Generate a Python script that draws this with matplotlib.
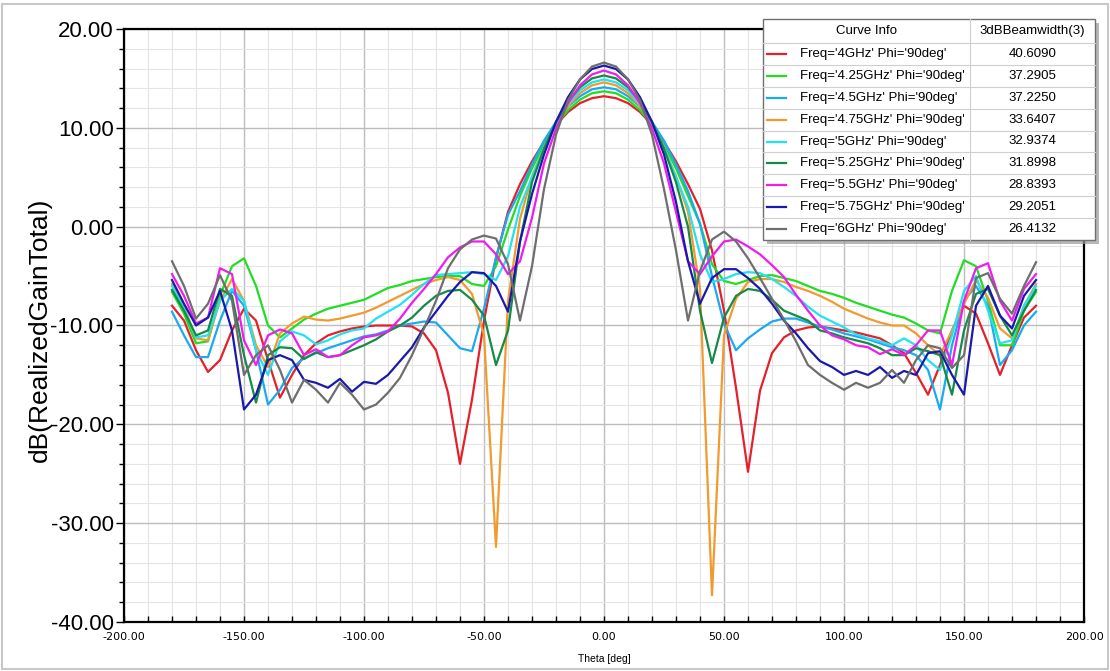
import numpy as np
import matplotlib.pyplot as plt
from matplotlib.patches import Rectangle
from matplotlib.lines import Line2D
from matplotlib.ticker import MultipleLocator, FormatStrFormatter

plt.rcParams["font.family"] = ["Liberation Sans", "DejaVu Sans"]

# theta grid of the far-field cut, degrees
theta = np.arange(-180, 181, 5)

# dB(RealizedGainTotal), one list per frequency
gain_4ghz = [
    -8.0, -9.5, -12.5, -14.7, -13.5, -10.5, -8.3, -9.5, -13.5, -17.3, -15.0, -13.0,
    -11.8, -11.0, -10.6, -10.3, -10.1, -10.0, -10.0, -10.0, -10.1, -10.8, -12.5, -16.8,
    -24.0, -17.5, -9.5, -3.2, 1.5, 4.3, 6.6, 8.6, 10.3, 11.6, 12.5, 13.0, 13.2,
    13.0, 12.5, 11.6, 10.3, 8.6, 6.6, 4.3, 1.8, -2.4, -8.5, -16.3, -24.8,
    -16.6, -12.8, -11.2, -10.5, -10.2, -10.1, -10.3, -10.5, -10.7, -11.0, -11.3, -12.0,
    -12.8, -14.8, -17.0, -14.0, -10.5, -8.0, -8.8, -11.8, -15.0, -12.0, -9.2, -8.0]
gain_4p25ghz = [
    -6.6, -8.8, -11.8, -11.6, -7.0, -4.0, -3.2, -6.0, -10.0, -11.2, -10.3, -9.4,
    -8.8, -8.3, -8.0, -7.7, -7.4, -6.8, -6.2, -5.9, -5.5, -5.3, -5.1, -5.0,
    -5.0, -5.8, -6.0, -4.0, -0.3, 3.1, 5.9, 8.3, 10.25, 11.8, 12.85, 13.5, 13.7,
    13.5, 12.85, 11.8, 10.25, 8.3, 5.9, 3.1, 0.3, -3.8, -5.5, -5.8, -5.4,
    -5.0, -4.9, -5.2, -5.5, -6.0, -6.5, -6.8, -7.2, -7.7, -8.1, -8.5, -8.9,
    -9.2, -9.8, -10.5, -10.8, -6.5, -3.4, -4.0, -7.5, -12.0, -12.0, -8.5, -6.6]
gain_4p5ghz = [
    -8.6, -11.0, -13.2, -13.2, -9.5, -6.5, -8.0, -12.5, -18.0, -16.5, -14.3, -13.3,
    -12.8, -12.3, -11.9, -11.5, -11.1, -10.9, -10.5, -10.0, -9.8, -9.6, -9.7, -11.0,
    -12.3, -12.6, -8.3, -3.1, 1.2, 3.6, 6.3, 8.7, 10.6, 12.15, 13.2, 13.9, 14.1,
    13.9, 13.2, 12.15, 10.6, 8.7, 6.3, 3.6, 0.3, -5.0, -9.8, -12.5, -11.3,
    -10.4, -9.6, -9.3, -9.3, -9.7, -10.1, -10.4, -10.8, -11.1, -11.4, -11.8, -12.2,
    -12.5, -13.0, -14.5, -18.5, -12.0, -7.5, -6.0, -8.0, -14.0, -12.5, -10.0, -8.6]
gain_4p75ghz = [
    -5.8, -8.0, -11.3, -11.5, -7.5, -5.3, -7.5, -12.0, -14.2, -10.8, -9.8, -9.1,
    -9.4, -9.5, -9.3, -9.0, -8.7, -8.2, -7.6, -7.0, -6.4, -5.8, -5.4, -5.1,
    -5.4, -6.8, -11.0, -32.4, -7.5, 0.8, 5.1, 8.0, 10.4, 12.2, 13.5, 14.3, 14.6,
    14.3, 13.5, 12.2, 10.4, 8.0, 5.1, 1.5, -6.3, -37.3, -11.0, -7.3, -5.6,
    -5.3, -5.3, -5.6, -6.1, -6.5, -7.0, -7.6, -8.3, -8.8, -9.3, -9.7, -10.0,
    -10.0, -10.8, -12.0, -13.0, -10.5, -7.8, -5.4, -7.2, -10.3, -11.3, -8.0, -5.8]
gain_5ghz = [
    -6.0, -8.3, -11.2, -11.0, -7.5, -6.3, -7.5, -12.5, -15.0, -11.6, -10.6, -11.0,
    -11.9, -11.5, -10.9, -10.5, -10.3, -9.3, -8.6, -7.9, -6.9, -5.8, -4.9, -4.8,
    -4.7, -4.6, -4.8, -5.4, -3.0, 2.0, 5.0, 8.0, 10.5, 12.4, 13.8, 14.6, 14.9,
    14.6, 13.8, 12.4, 10.5, 8.0, 5.0, 2.0, -2.8, -5.6, -5.3, -4.8, -4.6,
    -4.7, -5.3, -6.1, -7.0, -8.1, -9.0, -9.6, -10.2, -10.9, -11.3, -11.6, -12.0,
    -11.3, -12.0, -13.5, -14.5, -11.0, -6.5, -5.0, -8.5, -11.8, -11.5, -8.0, -6.0]
gain_5p25ghz = [
    -6.4, -8.5, -11.0, -10.5, -6.3, -7.0, -13.0, -17.8, -13.0, -12.2, -12.3, -13.4,
    -12.7, -13.2, -13.0, -12.5, -12.0, -11.4, -10.6, -10.0, -9.2, -8.0, -7.0, -6.5,
    -6.4, -7.4, -9.0, -14.0, -10.5, -1.5, 4.5, 7.9, 10.6, 12.65, 14.1, 15.0, 15.3,
    15.0, 14.1, 12.65, 10.6, 7.9, 4.5, 0.0, -8.5, -13.8, -9.2, -7.0, -6.3,
    -6.5, -7.4, -8.5, -9.0, -9.5, -10.5, -10.8, -11.2, -11.5, -11.8, -12.3, -13.0,
    -13.0, -12.3, -12.6, -13.0, -17.0, -10.5, -6.8, -6.3, -9.0, -11.0, -8.5, -6.4]
gain_5p5ghz = [
    -4.8, -7.0, -9.8, -9.2, -4.2, -4.8, -11.5, -14.0, -11.0, -10.4, -10.8, -13.0,
    -12.4, -13.2, -13.0, -12.0, -11.2, -11.0, -10.6, -9.3, -7.7, -6.3, -4.8, -3.1,
    -2.1, -1.5, -1.5, -2.8, -4.8, -3.5, 0.9, 6.4, 9.9, 12.5, 14.3, 15.4, 15.8,
    15.4, 14.3, 12.5, 9.9, 6.4, 1.5, -3.5, -4.8, -3.0, -1.5, -1.3, -2.0,
    -2.8, -3.9, -5.1, -6.9, -8.5, -10.0, -11.0, -11.4, -12.0, -12.2, -12.9, -12.4,
    -13.0, -12.0, -10.5, -10.5, -14.0, -7.5, -4.2, -3.7, -7.5, -9.5, -6.3, -4.8]
gain_5p75ghz = [
    -5.4, -7.8, -10.0, -9.2, -6.5, -10.5, -18.5, -17.0, -13.5, -13.0, -13.5, -15.5,
    -15.8, -16.3, -15.4, -16.7, -15.7, -15.9, -15.0, -13.6, -12.2, -10.2, -8.6, -7.0,
    -5.6, -4.6, -4.7, -6.0, -8.6, -1.5, 3.3, 7.3, 10.6, 13.1, 14.9, 15.95, 16.3,
    15.95, 14.9, 13.1, 10.6, 7.3, 2.5, -3.5, -7.8, -5.2, -4.3, -4.3, -5.2,
    -6.3, -7.8, -9.5, -10.8, -12.3, -13.6, -14.2, -15.0, -14.6, -15.0, -14.2, -15.3,
    -14.6, -15.0, -12.8, -12.6, -15.0, -17.0, -8.0, -6.0, -9.0, -10.3, -7.0, -5.4]
gain_6ghz = [
    -3.5, -6.0, -9.3, -7.8, -4.9, -7.5, -15.0, -13.0, -12.0, -14.5, -17.8, -15.5,
    -16.5, -17.8, -15.8, -17.0, -18.5, -18.0, -16.8, -15.3, -13.0, -10.3, -7.5, -4.2,
    -2.3, -1.3, -0.9, -1.2, -3.8, -9.5, -4.0, 3.8, 9.3, 12.8, 14.9, 16.2, 16.6,
    16.2, 14.9, 12.8, 9.3, 3.8, -2.4, -9.5, -4.5, -1.3, -0.5, -1.5, -3.2,
    -5.2, -7.3, -9.4, -11.6, -14.0, -15.0, -15.8, -16.5, -15.8, -16.3, -15.8, -14.5,
    -15.8, -13.5, -12.0, -12.3, -14.3, -13.0, -5.2, -4.7, -7.3, -8.8, -6.0, -3.6]

freqs = ["4GHz", "4.25GHz", "4.5GHz", "4.75GHz", "5GHz",
         "5.25GHz", "5.5GHz", "5.75GHz", "6GHz"]
beamwidth = ["40.6090", "37.2905", "37.2250", "33.6407", "32.9374",
             "31.8998", "28.8393", "29.2051", "26.4132"]
colors = ["#e4202a", "#22dd22", "#19aaf0", "#f29a2e", "#22e2f0",
          "#178a48", "#ee1cee", "#1a1aaa", "#6e6e6e"]

curves = [gain_4ghz, gain_4p25ghz, gain_4p5ghz, gain_4p75ghz, gain_5ghz,
          gain_5p25ghz, gain_5p5ghz, gain_5p75ghz, gain_6ghz]

W, H = 1110, 671


def fx(x):
    return x / W


def fy(y):
    return 1 - y / H


fig = plt.figure(figsize=(W / 100, H / 100), dpi=100)
fig.add_artist(Rectangle((fx(2), fy(669)), fx(1106), (667 - 2) / H,
                         transform=fig.transFigure, fill=False,
                         edgecolor="#c8c8c8", lw=1.5))

ax = fig.add_axes([fx(124), fy(622), (1084 - 124) / W, (622 - 29) / H])
for g, c in zip(curves, colors):
    ax.plot(theta, g, color=c, lw=1.6, solid_joinstyle="round", zorder=3)

ax.set_xlim(-200, 200)
ax.set_ylim(-40, 20)
ax.xaxis.set_major_locator(MultipleLocator(50))
ax.xaxis.set_minor_locator(MultipleLocator(10))
ax.yaxis.set_major_locator(MultipleLocator(10))
ax.yaxis.set_minor_locator(MultipleLocator(2))
ax.xaxis.set_major_formatter(FormatStrFormatter("%.2f"))
ax.yaxis.set_major_formatter(FormatStrFormatter("%.2f"))
ax.grid(which="major", color="#bcbcbc", lw=1.0)
ax.grid(which="minor", color="#e4e4e4", lw=0.8)
ax.set_axisbelow(True)
ax.tick_params(axis="y", which="major", direction="out", length=6, width=1,
               labelsize=16, pad=1.5)
ax.tick_params(axis="y", which="minor", direction="out", length=3.5, width=1)
ax.tick_params(axis="x", which="both", direction="in", length=4, width=1,
               labelsize=8, pad=7, labelfontfamily="Liberation Sans Narrow")
for s in ax.spines.values():
    s.set_linewidth(1.6)
    s.set_color("black")

fig.text(fx(40), fy(330), "dB(RealizedGainTotal)", rotation=90,
         fontsize=19, ha="center", va="center")
fig.text(fx(604), fy(659), "Theta [deg]", fontsize=7.5, ha="center",
         va="center", family=["Liberation Sans Narrow", "Liberation Sans"])

# curve info box
bx0, bx1, by0, by1 = 763, 1095, 19, 240
col = 970
fig.add_artist(Rectangle((fx(bx0 + 4), fy(by1 + 4)), fx(bx1 - bx0), (by1 - by0) / H,
                         transform=fig.transFigure, facecolor="#9a9a9a",
                         edgecolor="none", alpha=0.7, zorder=5))
fig.add_artist(Rectangle((fx(bx0), fy(by1)), fx(bx1 - bx0), (by1 - by0) / H,
                         transform=fig.transFigure, facecolor="white",
                         edgecolor="#707070", lw=1.0, zorder=6))
head_bottom = 43
row_h = (by1 - head_bottom) / len(freqs)
fig.add_artist(Line2D([fx(col), fx(col)], [fy(by0), fy(by1)],
                      transform=fig.transFigure, color="#cfcfcf", lw=0.8, zorder=7))
for i in range(len(freqs)):
    yb = head_bottom + i * row_h
    fig.add_artist(Line2D([fx(bx0), fx(bx1)], [fy(yb), fy(yb)],
                          transform=fig.transFigure, color="#cfcfcf",
                          lw=0.8, zorder=7))
fig.text(fx((bx0 + col) / 2), fy(31), "Curve Info", fontsize=9.5,
         ha="center", va="center", zorder=8)
fig.text(fx((col + bx1) / 2), fy(31), "3dBBeamwidth(3)", fontsize=9.5,
         ha="center", va="center", zorder=8)
for i, (f, bw, c) in enumerate(zip(freqs, beamwidth, colors)):
    yc = head_bottom + (i + 0.5) * row_h
    fig.add_artist(Line2D([fx(767), fx(786)], [fy(yc), fy(yc)],
                          transform=fig.transFigure, color=c, lw=1.6, zorder=8))
    fig.text(fx(800), fy(yc), f"Freq='{f}' Phi='90deg'", fontsize=9.5,
             ha="left", va="center", zorder=8)
    fig.text(fx((col + bx1) / 2), fy(yc), bw, fontsize=9.5,
             ha="center", va="center", zorder=8)

fig.savefig("out.png", dpi=100)
